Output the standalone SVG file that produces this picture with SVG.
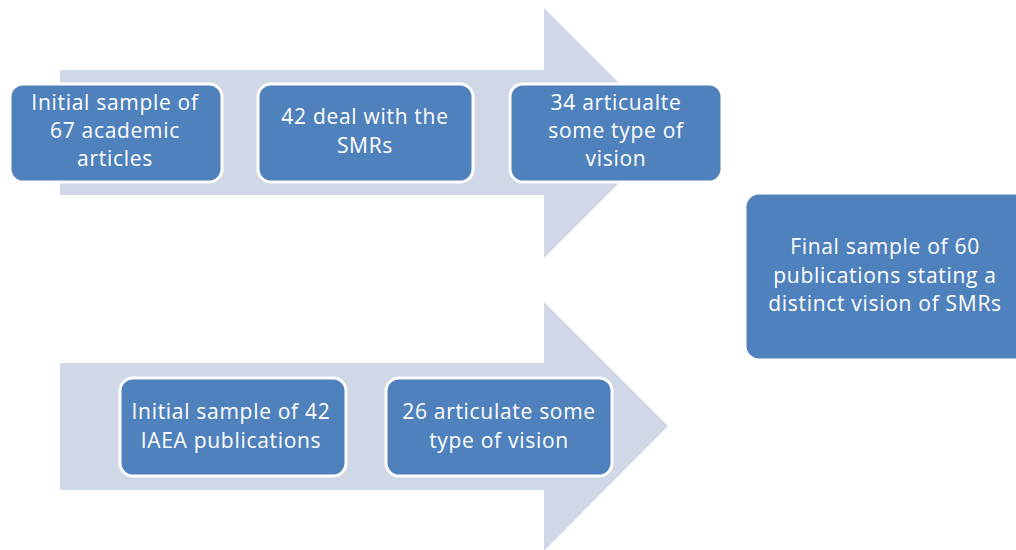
<svg xmlns="http://www.w3.org/2000/svg" width="1016" height="550" viewBox="0 0 1016 550">
<style>
.arrow{fill:#D0D8E8}
.box{fill:#4F81BD;stroke:#FFFFFF;stroke-width:3}
.t{font-family:"Open Sans","Liberation Sans",Arial,sans-serif;font-size:21px;letter-spacing:0.7px;fill:#FFFFFF;text-anchor:middle}
</style>
<rect width="1016" height="550" fill="#FFFFFF"/>
<g id="connectors">
<polygon class="arrow" points="60,70 544,70 544,8 669,133 544,258 544,195 60,195"/>
<polygon class="arrow" points="60,363 544,363 544,302 668,426 544,551 544,490 60,490"/>
</g>
<g id="n1">
<rect class="box" x="10" y="84" width="212" height="98" rx="13"/>
<text class="t" x="115" y="110">Initial sample of</text>
<text class="t" x="115" y="138">67 academic</text>
<text class="t" x="115" y="166">articles</text>
</g>
<g id="n2">
<rect class="box" x="258" y="84" width="215" height="98" rx="13"/>
<text class="t" x="365" y="124">42 deal with the</text>
<text class="t" x="365" y="153">SMRs</text>
</g>
<g id="n3">
<rect class="box" x="510" y="84" width="212" height="98" rx="13"/>
<text class="t" x="616" y="110">34 articualte</text>
<text class="t" x="616" y="138">some type of</text>
<text class="t" x="616" y="166">vision</text>
</g>
<g id="n4">
<rect class="box" x="745" y="193" width="290" height="167" rx="14"/>
<text class="t" x="885" y="254">Final sample of 60</text>
<text class="t" x="885" y="283">publications stating a</text>
<text class="t" x="885" y="311">distinct vision of SMRs</text>
</g>
<g id="n5">
<rect class="box" x="120" y="378" width="226" height="98" rx="13"/>
<text class="t" x="231" y="419">Initial sample of 42</text>
<text class="t" x="231" y="448">IAEA publications</text>
</g>
<g id="n6">
<rect class="box" x="386" y="378" width="226" height="98" rx="13"/>
<text class="t" x="499" y="419">26 articulate some</text>
<text class="t" x="499" y="448">type of vision</text>
</g>
</svg>
